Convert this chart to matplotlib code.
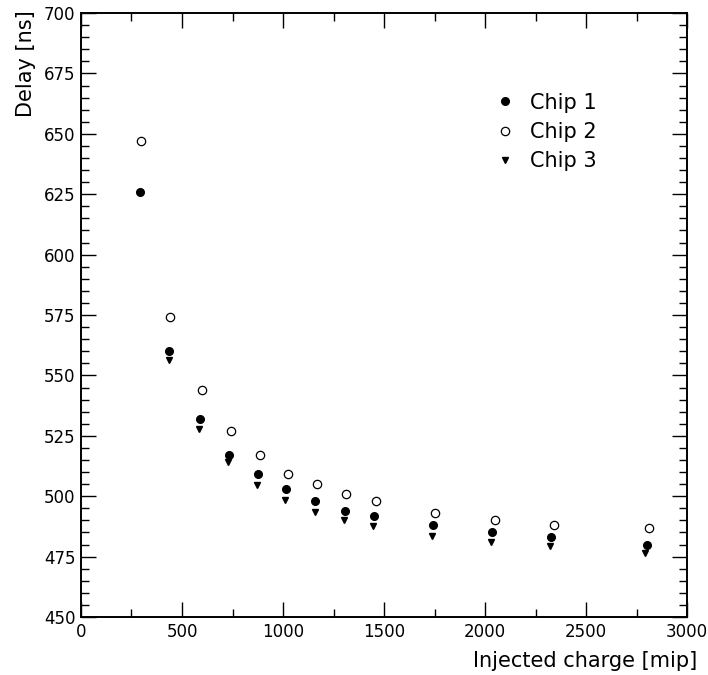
import matplotlib.pyplot as plt
from matplotlib.ticker import MultipleLocator

# injected charge [mip] and delay [ns]
chip1_x = [291, 435, 588, 731, 874, 1017, 1160, 1309, 1452, 1743, 2035, 2326, 2800]
chip1_y = [626, 560, 532, 517, 509, 503, 498, 494, 492, 488, 485, 483, 480]

chip2_x = [296, 440, 598, 741, 884, 1027, 1170, 1314, 1462, 1753, 2049, 2341, 2810]
chip2_y = [647, 574, 544, 527, 517, 509, 505, 501, 498, 493, 490, 488, 487]

chip3_x = [291, 435, 583, 726, 869, 1012, 1156, 1304, 1447, 1738, 2030, 2321, 2790]
chip3_y = [625.5, 556.5, 528, 514, 504.5, 498.5, 493.5, 490, 487.5, 483.5, 481, 479.5, 476.5]

plt.rcParams["font.family"] = ["DejaVu Sans"]

fig = plt.figure(figsize=(7.08, 6.75), dpi=100)
ax = fig.add_axes([0.1144, 0.0859, 0.8560, 0.8948])

ax.plot(chip1_x, chip1_y, "o", ms=5.5, color="black", label="Chip 1")
ax.plot(chip2_x, chip2_y, "o", ms=6, mfc="white", mec="black", mew=0.9, label="Chip 2")
ax.plot(chip3_x, chip3_y, "v", ms=5, color="black", label="Chip 3")

ax.set_xlim(0, 3000)
ax.set_ylim(450, 700)
ax.xaxis.set_major_locator(MultipleLocator(500))
ax.xaxis.set_minor_locator(MultipleLocator(250))
ax.yaxis.set_major_locator(MultipleLocator(25))
ax.yaxis.set_minor_locator(MultipleLocator(5))
ax.tick_params(which="both", direction="in", top=True, right=True, width=1, labelsize=12)
ax.tick_params(which="major", length=11, pad=4)
ax.tick_params(which="minor", length=5.5)
for s in ax.spines.values():
    s.set_linewidth(1.4)

fig.text(0.985, 0.006, "Injected charge [mip]", ha="right", va="bottom", fontsize=15)
fig.text(0.022, 0.985, "Delay [ns]", ha="left", va="top", rotation=90, fontsize=15)

ax.legend(loc="upper left", bbox_to_anchor=(0.665, 0.882), frameon=False,
          fontsize=15, handletextpad=0.6, labelspacing=0.45, handlelength=1.2,
          borderaxespad=0)

fig.savefig("out.png", dpi=100)
